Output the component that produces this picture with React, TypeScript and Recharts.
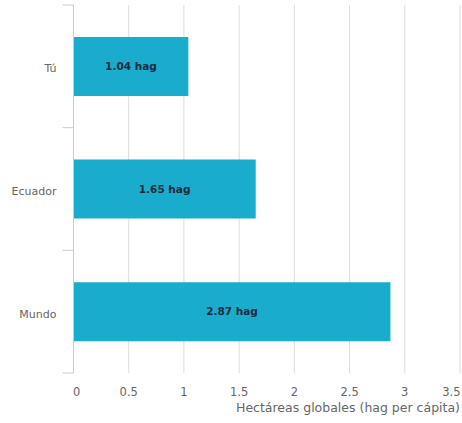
import React from 'react';
import { BarChart, Bar, XAxis, YAxis, CartesianGrid, LabelList } from 'recharts';

const categories = ['Tú', 'Ecuador', 'Mundo'];
const values = [1.04, 1.65, 2.87];
const xTicks = [0, 0.5, 1, 1.5, 2, 2.5, 3, 3.5];
const unit = 'hag';
const axisTitle = 'Hectáreas globales (hag per cápita)';

const data = categories.map((name, i) => ({ name, value: values[i] }));

const W = 462;
const H = 423;
const M = { top: 5, right: 2, bottom: 14, left: 0 };
const Y_W = 73.5;
const X_H = 36;
const plotH = H - M.top - M.bottom - X_H;
const band = plotH / categories.length;
const FONT = '"DejaVu Sans", sans-serif';
const AXIS_COLOR = '#cccccc';

const YTick = (props: any) => {
  const { x, y, payload, index } = props;
  const axisX = x + 8;
  const isLast = index === categories.length - 1;
  return (
    <g>
      <line x1={axisX - 11} x2={axisX} y1={y - band / 2} y2={y - band / 2} stroke={AXIS_COLOR} />
      {isLast && (
        <line x1={axisX - 11} x2={axisX} y1={y + band / 2} y2={y + band / 2} stroke={AXIS_COLOR} />
      )}
      <text x={axisX - 17} y={y + 2} dy="0.35em" textAnchor="end" fill="#666" fontSize={11} fontFamily={FONT}>
        {payload.value}
      </text>
    </g>
  );
};

const XTick = (props: any) => {
  const { x, y, payload, index } = props;
  const first = index === 0;
  const last = index === xTicks.length - 1;
  const anchor = first ? 'start' : last ? 'end' : 'middle';
  const tx = first ? x - 0.5 : last ? x + 0.5 : x;
  return (
    <text x={tx} y={y + 11} dy="0.35em" textAnchor={anchor} fill="#666" fontSize={11.5} fontFamily={FONT}>
      {payload.value}
    </text>
  );
};

const AxisTitle = (props: any) => {
  const { viewBox } = props;
  const x = viewBox.x + viewBox.width;
  const y = viewBox.y + 35;
  return (
    <text x={x} y={y} dy="0.35em" textAnchor="end" fill="#666" fontSize={12.5} fontFamily={FONT}>
      {axisTitle}
    </text>
  );
};

export default function App() {
  return (
    <div style={{ position: 'absolute', left: 0, top: 0, width: W, height: H, background: '#fff' }}>
      <BarChart
        width={W}
        height={H}
        data={data}
        layout="vertical"
        margin={M}
        barCategoryGap="26%"
      >
        <CartesianGrid horizontal={false} stroke="#dcdcdc" />
        <XAxis
          type="number"
          domain={[0, 3.5]}
          ticks={xTicks}
          axisLine={false}
          tickLine={false}
          height={X_H}
          tick={<XTick />}
          label={<AxisTitle />}
          interval={0}
        />
        <YAxis
          type="category"
          dataKey="name"
          width={Y_W}
          axisLine={{ stroke: AXIS_COLOR }}
          tickLine={false}
          tick={<YTick />}
          interval={0}
        />
        <Bar dataKey="value" fill="#1aaccd" isAnimationActive={false}>
          <LabelList
            dataKey="value"
            position="center"
            formatter={(v: any) => `${v} ${unit}`}
            fill="#1b2b3b"
            fontSize={10.5}
            fontWeight={600}
            fontFamily={FONT}
          />
        </Bar>
      </BarChart>
    </div>
  );
}
